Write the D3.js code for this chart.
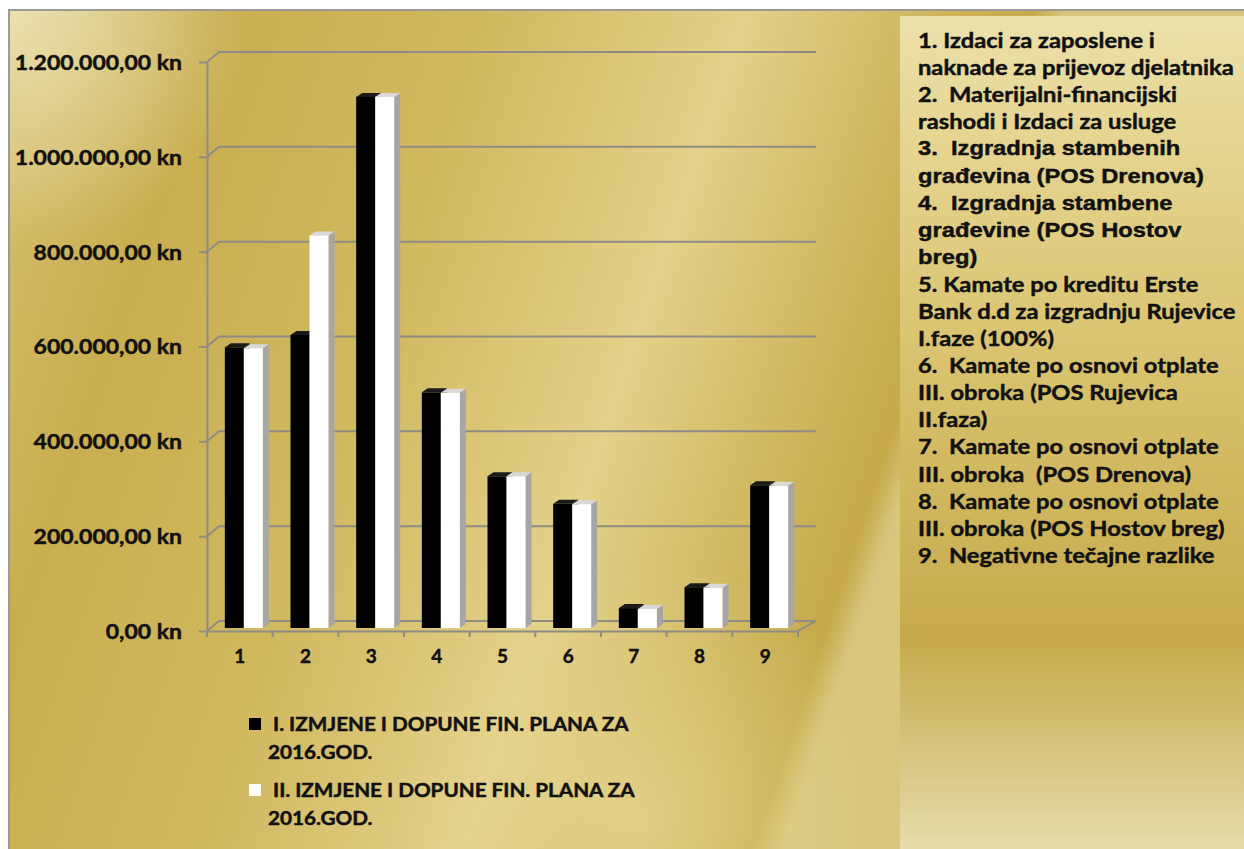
<!DOCTYPE html>
<html>
<head>
<meta charset="utf-8">
<script src="https://cdn.jsdelivr.net/npm/d3@7"></script>
<style>
  html, body { margin: 0; padding: 0; background: #fff; }
  svg { display: block; }
  text { stroke: #111; stroke-width: 0.45px; }
</style>
</head>
<body>
<svg id="canvas" width="1244" height="849"></svg>
<script>
// data
const categories = ["1", "2", "3", "4", "5", "6", "7", "8", "9"];
const seriesI = [592000, 618000, 1120000, 497000, 320000, 262000, 42000, 86000, 301000];
const seriesII = [590000, 828000, 1120000, 496000, 320000, 261000, 40000, 85000, 300000];
const seriesNames = [
  ["I. IZMJENE I DOPUNE FIN. PLANA ZA", "2016.GOD."],
  ["II. IZMJENE I DOPUNE FIN. PLANA ZA", "2016.GOD."],
];
const yTicks = [0, 200000, 400000, 600000, 800000, 1000000, 1200000];
const notes = [
  ["1. Izdaci za zaposlene i", "naknade za prijevoz djelatnika"],
  ["2.  Materijalni-financijski", "rashodi i Izdaci za usluge"],
  ["3.  Izgradnja stambenih", "građevina (POS Drenova)"],
  ["4.  Izgradnja stambene", "građevine (POS Hostov", "breg)"],
  ["5. Kamate po kreditu Erste", "Bank d.d za izgradnju Rujevice", "I.faze (100%)"],
  ["6.  Kamate po osnovi otplate", "III. obroka (POS Rujevica", "II.faza)"],
  ["7.  Kamate po osnovi otplate", "III. obroka  (POS Drenova)"],
  ["8.  Kamate po osnovi otplate", "III. obroka (POS Hostov breg)"],
  ["9.  Negativne tečajne razlike"],
];

const svg = d3.select("#canvas");
const defs = svg.append("defs");
const STRETCH = 1.13; // the source text is drawn wide

// backgrounds
const bg = defs.append("linearGradient").attr("id", "bgGold")
  .attr("gradientUnits", "userSpaceOnUse")
  .attr("x1", 9).attr("y1", 200).attr("x2", 900).attr("y2", 500);
[[0, "#d2bb66"], [0.15, "#c9ae50"], [0.42, "#d1b95f"], [0.68, "#e3d18a"],
 [0.9, "#ccb256"], [0.97, "#c6aa4c"], [1, "#d8c67c"]]
  .forEach(([o, c]) => bg.append("stop").attr("offset", o).attr("stop-color", c));

const glow = defs.append("radialGradient").attr("id", "glowTL")
  .attr("gradientUnits", "userSpaceOnUse")
  .attr("cx", 9).attr("cy", 10).attr("r", 240);
glow.append("stop").attr("offset", 0).attr("stop-color", "#ece2b4").attr("stop-opacity", 0.95);
glow.append("stop").attr("offset", 1).attr("stop-color", "#ece2b4").attr("stop-opacity", 0);

const glow2 = defs.append("radialGradient").attr("id", "glowBot")
  .attr("gradientUnits", "userSpaceOnUse")
  .attr("cx", 640).attr("cy", 820).attr("r", 260);
glow2.append("stop").attr("offset", 0).attr("stop-color", "#e8d995").attr("stop-opacity", 0.7);
glow2.append("stop").attr("offset", 1).attr("stop-color", "#e8d995").attr("stop-opacity", 0);

const panel = defs.append("linearGradient").attr("id", "panelGold")
  .attr("x1", 0).attr("y1", 0).attr("x2", 0).attr("y2", 1);
[[0, "#ece1ab"], [0.15, "#e5d591"], [0.45, "#d7c06a"], [0.75, "#c6aa4c"], [1, "#e6dcac"]]
  .forEach(([o, c]) => panel.append("stop").attr("offset", o).attr("stop-color", c));

svg.append("rect").attr("x", 9).attr("y", 10).attr("width", 1235).attr("height", 839)
  .attr("fill", "url(#bgGold)");
svg.append("rect").attr("x", 9).attr("y", 10).attr("width", 891).attr("height", 839)
  .attr("fill", "url(#glowTL)");
svg.append("rect").attr("x", 9).attr("y", 10).attr("width", 891).attr("height", 839)
  .attr("fill", "url(#glowBot)");
svg.append("path").attr("d", "M9,849V10H1244").attr("fill", "none")
  .attr("stroke", "#9a9a9a").attr("stroke-width", 2);
svg.append("rect").attr("x", 900).attr("y", 16).attr("width", 344).attr("height", 833)
  .attr("fill", "url(#panelGold)");

// scales (front plane) and 3D offsets
const x = d3.scaleBand().domain(categories).range([207, 798]);
const y = d3.scaleLinear().domain([0, 1200000]).range([631, 62]);
const DX = 12, DY = -10;         // depth of the back wall
const BX = 4, BY = -3;           // plane of the bars
const SX = 6, SY = -4;           // depth of a bar
const barW = 19;
const gridColor = "#8e8c84";

const kn = d3.formatLocale({ decimal: ",", thousands: ".", grouping: [3], currency: ["", " kn"] })
  .format("$,.2f");

// walls: gridlines on the back wall with the diagonal on the left wall
const xEnd = x.range()[1];
const grid = svg.append("g");
grid.selectAll("path").data(yTicks).enter().append("path")
  .attr("d", (d) => `M207,${y(d)}L${207 + DX},${y(d) + DY}H${xEnd + DX + 6}`)
  .attr("fill", "none").attr("stroke", gridColor).attr("stroke-width", 2);
svg.append("path")
  .attr("d", `M${xEnd},${y(0)}L${xEnd + DX + 6},${y(0) + DY}`)
  .attr("fill", "none").attr("stroke", gridColor).attr("stroke-width", 2);

// y axis
const yAxis = svg.append("g").attr("transform", "translate(207,0)")
  .call(d3.axisLeft(y).tickValues(yTicks).tickFormat(kn).tickSize(8).tickPadding(17).tickSizeOuter(0));
yAxis.select(".domain").attr("stroke", gridColor).attr("stroke-width", 2);
yAxis.selectAll(".tick line").attr("stroke", gridColor).attr("stroke-width", 2);
yAxis.selectAll("text").attr("font-family", "Lato").attr("font-weight", "bold")
  .attr("font-size", 20).attr("fill", "#111")
  .attr("x", 0).attr("transform", `translate(-25,1) scale(${STRETCH + 0.02},1)`);

// x axis
const xAxis = svg.append("g").attr("transform", `translate(0,${y(0)})`)
  .call(d3.axisBottom(x).tickSize(0).tickPadding(19).tickSizeOuter(0));
xAxis.select(".domain").attr("stroke", gridColor).attr("stroke-width", 2);
xAxis.selectAll("text").attr("font-family", "Lato").attr("font-weight", "bold")
  .attr("font-size", 19).attr("fill", "#111");
xAxis.selectAll(".bound").data(categories.map((c) => x(c)).concat([xEnd]))
  .enter().append("line").attr("class", "bound")
  .attr("x1", (d) => d).attr("x2", (d) => d).attr("y1", 0).attr("y2", 6)
  .attr("stroke", gridColor).attr("stroke-width", 2);

// 3D bars
const series = [
  { values: seriesI, front: "#000", top: "#1a1a1a", side: "#000" },
  { values: seriesII, front: "#fff", top: "#d9d9d9", side: "#a6a6a6" },
];
const bars = svg.append("g");
categories.forEach((c, i) => {
  const x0 = x(c) + x.bandwidth() / 2 - barW + BX;
  series.forEach((s, k) => {
    const bx = x0 + k * barW;
    const top = y(s.values[i]) + BY;
    const base = y(0) + BY;
    const g = bars.append("g");
    g.append("path")
      .attr("d", `M${bx + barW},${top}L${bx + barW + SX},${top + SY}V${base + SY}L${bx + barW},${base}Z`)
      .attr("fill", s.side);
    g.append("path")
      .attr("d", `M${bx},${top}L${bx + SX},${top + SY}H${bx + barW + SX}L${bx + barW},${top}Z`)
      .attr("fill", s.top);
    g.append("rect").attr("x", bx).attr("y", top).attr("width", barW).attr("height", base - top)
      .attr("fill", s.front);
  });
});

// legend under the chart
const legend = svg.append("g");
seriesNames.forEach((lines, k) => {
  const ly = 724 + k * 66;
  legend.append("rect").attr("x", 249).attr("y", ly - 6).attr("width", 12).attr("height", 12)
    .attr("fill", series[k].front);
  lines.forEach((t, j) => {
    legend.append("text")
      .attr("transform", `translate(${j === 0 ? 273 : 268},${ly + j * 28}) scale(${STRETCH + 0.02},1)`)
      .attr("dominant-baseline", "central")
      .attr("font-family", "Lato").attr("font-weight", "bold").attr("font-size", 18)
      .attr("fill", "#111").text(t);
  });
});

// category notes on the right
const arialItems = new Set([2, 3]);
const noteLines = [];
notes.forEach((lines, i) => lines.forEach((t) => noteLines.push({ t, arial: arialItems.has(i) })));
svg.append("g").selectAll("text").data(noteLines).enter().append("text")
  .attr("transform", (d, i) => `translate(918,${40 + i * 27.1}) scale(${STRETCH},1)`)
  .attr("dominant-baseline", "central")
  .style("white-space", "pre")
  .attr("font-family", (d) => (d.arial ? "Liberation Sans" : "Lato"))
  .attr("font-weight", "bold")
  .attr("font-size", 21)
  .attr("fill", "#111")
  .text((d) => d.t);
</script>
</body>
</html>
